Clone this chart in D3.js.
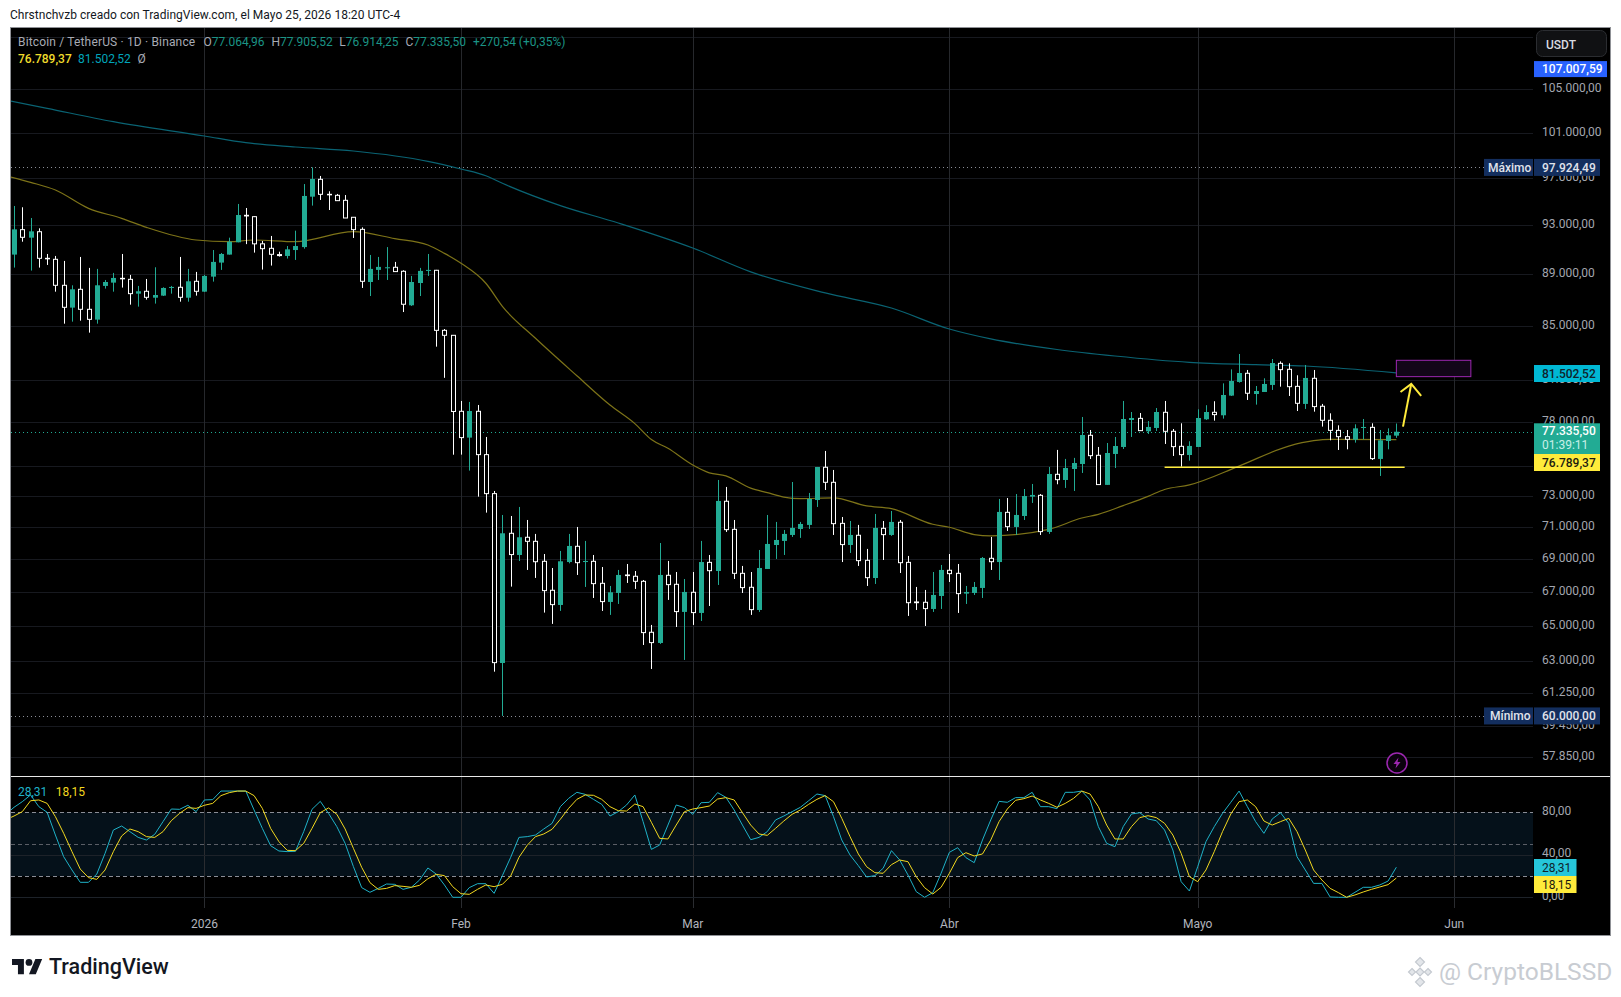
<!DOCTYPE html>
<html>
<head>
<meta charset="utf-8">
<script src="https://cdn.jsdelivr.net/npm/d3@7"></script>
<style>
  html, body { margin: 0; padding: 0; background: #fff; }
  svg { display: block; }
  text { font-family: Roboto, "Liberation Sans", sans-serif; }
</style>
</head>
<body>
<div id="chart-area"></div>
<script>
// candles, first one is 9 Dec 2025, last one is 25 May 2026
var opens = [
  90590,92630,91970,92460,90290,90210,88140,86400,87825,86270,85480,88090,
  88350,88690,88610,87485,87670,87170,87330,87960,87985,87170,88455,87640,
  88825,89945,90590,91590,93825,93710,91465,91100,90590,90480,90960,91200,
  95400,96890,95600,95515,95090,93660,92655,88400,89360,89545,89570,89250,
  86580,88320,89305,89330,84665,84290,78760,76930,78760,75770,73176,62905,
  70630,69275,70380,70125,68885,67125,66250,68840,69815,68840,68885,67545,
  66430,66965,68050,67970,67665,64655,64040,68030,67485,65840,67005,65780,
  68820,68290,72680,70880,68150,67305,65955,68415,69895,70150,70525,70905,
  71160,72760,74920,73920,71260,69895,70505,68945,67865,70945,70525,71330,
  68820,66430,66410,66015,66785,68335,68150,66925,66965,67265,69070,68840,
  71965,71030,71730,72980,73065,70715,74450,74074,74805,75140,77090,75725,
  73750,75815,76290,78150,78265,77365,77595,78690,77365,76335,75745,76290,
  78200,78690,78480,79870,80850,81480,79985,80130,80635,82206,81770,80535,
  79280,81115,79115,78130,77430,76995,76790,77620,77640,75480,76700,77064.96
]
var highs = [
  94610,94500,93600,92740,90640,90480,90080,88140,90400,89520,89440,88560,
  89120,90640,88960,88090,88640,89570,87985,88090,90400,89440,89200,88960,
  90960,90720,91970,94780,94440,93740,91700,92110,90825,91285,92545,96480,
  97924.49,97180,95860,95630,95540,93660,92820,90560,90400,91200,90000,89330,
  88880,89520,90640,89360,84765,84290,79490,79420,79205,76975,73350,71795,
  71730,72310,71475,70590,69335,68475,69525,70590,71030,70150,69275,68535,
  67385,68355,68720,68290,67745,65080,70020,68905,68230,67805,68230,70150,
  69275,74074,73615,71475,68600,68230,69585,71795,71350,70840,73940,71350,
  73220,74940,76020,74740,71665,71410,71160,69650,71860,71410,72050,71475,
  69215,67325,67145,68230,68660,69335,68720,67385,67625,69150,70400,72830,
  72890,73150,73480,73810,73150,74940,76090,75480,75550,78360,77456,76290,
  76560,76975,79490,78710,78640,78075,78990,79490,77525,77920,76680,78900,
  79190,79470,80750,81765,82895,81720,80560,81115,82525,82350,82206,81335,
  82085,81720,79280,78617,77780,77456,77850,78220,77920,77456,77570,77905.52
]
var lows = [
  89545,91640,89305,89545,89757,87640,85170,85325,85400,84490,85170,87880,
  87640,87960,86630,86475,87020,86710,87300,87485,86860,86860,87330,87615,
  88430,89360,90590,91590,91440,90750,89385,89705,90430,90270,90160,91070,
  94640,95120,94270,95035,93600,91945,87930,87300,88560,88560,89200,86060,
  86530,87300,88880,83440,81150,75765,75770,74695,72979,71945,62420,60000,
  67345,68905,68355,67870,65800,65140,65900,68760,68050,67325,66665,65900,
  65665,66310,67565,67205,63925,62570,63985,66550,64960,63075,65080,65310,
  66190,67445,70715,67805,66965,65665,65840,68415,69030,69275,70400,70340,
  70905,72310,73415,70525,68840,69400,68600,67385,67505,68965,70465,68170,
  65605,65955,65020,65840,66015,67625,65780,66310,66845,66665,68355,67745,
  70780,70525,71475,72570,70525,70590,73790,73550,73350,74540,75475,73750,
  73750,74870,76155,76975,77385,77180,77385,76495,75680,74960,75365,76290,
  78155,78105,78245,79845,80800,79560,79230,80130,80275,80510,79845,78780,
  78925,78735,77690,76745,76085,76130,76585,76815,75410,74340,76130,76914.25
]
var closes = [
  92655,92000,92490,90290,90270,88140,86425,87825,86270,85500,88140,88400,
  88720,88665,87485,87670,87200,87380,87930,88010,87200,88455,87670,88880,
  90000,90640,91640,93850,93770,91465,91070,90615,90510,91015,91285,95460,
  96920,95600,95570,95060,93600,92630,88455,89440,89600,89570,89225,86660,
  88400,89280,89360,84665,84290,78745,76930,78780,75770,73176,62925,70630,
  69300,70380,70125,68860,67105,66270,68885,69835,68800,68905,67525,66450,
  67005,68050,68010,67665,64635,64060,68050,67465,65860,67025,65800,68840,
  68310,72700,70860,68150,67285,65975,68475,69960,70210,70590,70970,71220,
  72830,74940,73920,71240,69920,70525,68925,67885,70970,70545,71350,68800,
  66385,66385,66035,66845,68355,68130,66925,67025,67325,69090,68860,71990,
  71050,71795,73020,73090,70735,74470,74095,74870,75205,77110,75700,73770,
  75880,76355,78220,78290,77410,77665,78710,77365,76312,75770,76360,78290,
  78710,78525,79915,80920,81500,80040,80200,80705,82230,81745,80510,79325,
  81140,79090,78130,77430,76995,76815,77570,77665,75500,76745,77090,77335.5
]

var maLongDays = [-24,-19,-11,0,5,11,18,27,31,34,36,43,50,59,66,75,83,90,95,103,110,119,127,133,144]
var maLongValues = [104000,103230,102005,100710,100110,99725,99370,98460,97785,97200,96545,94640,93180,91120,89200,87540,86370,84765,84020,83230,82745,82280,82110,82010,81502.52]
var maShortDays = [-24,-21,-18,-14,-10,-7,-1,3,6,11,18,23,27,29,31,34,36,40,45,49,52,54,56,59,61,63,66,68,70,72,76,80,83,88,90,93,95,102,106,108,111,114,116,119,125,131,134,136,144]
var maShortValues = [97200,96630,95970,94410,93570,92820,91780,91640,91780,91640,92460,91890,91370,90690,89890,88300,86500,84065,81300,79200,77900,76800,76200,75075,74550,74350,73540,73240,72950,72850,72900,72375,72200,71200,71010,70550,70465,70880,71600,71835,72400,73000,73450,73750,75000,76350,76720,76815,76789.37]

// stochastic RSI, first value is 8 Dec 2025
var stochK = [
  78,84.7,90,96.3,85.3,80,58.6,38.2,25.7,14.1,14.1,21.9,41.4,
  63.3,67.1,61.8,56.4,53.9,59.3,71.2,83.1,82.8,86.6,80.6,91.6,
  91.9,100,100,100,100,82.2,64.9,48.6,43.6,43,43.3,61.8,
  82.8,90.3,79,66.5,50.8,28.9,9.1,4.7,8.4,12.5,12.2,7.5,
  9.4,16.3,27.6,21.9,11.6,0,0,9.1,12.8,12.8,3.7,20.4,
  37.6,56.4,57.1,58.6,64.3,69.6,85.3,93.1,98.8,96.9,92.2,87.5,
  76.5,80.6,86.9,96.3,71.2,45.1,49.2,68,86.9,84.4,78.1,89,
  89.4,98.5,94.1,82.2,68,54.2,56.4,61.8,72.8,76.5,80.6,84.7,
  90.9,97.2,95.7,75.9,53.9,39.8,29.8,19.1,20.4,27.3,43.9,35.1,
  21,5.3,0,4.4,22.6,42.3,46.7,37.3,32.6,53.9,72.8,90.3,
  89.4,93.8,93.8,98.8,85.3,85.3,83.4,98.8,98.8,100,91.6,66.5,
  50.8,47.6,66.5,78.4,79.6,73.7,72.1,63.3,44.5,14.7,5.9,28.8,
  52.4,66.5,79,89.4,100,85.3,71.2,60.2,73.7,79.6,69.6,38.2,
  25.7,13.1,13.1,0.3,0,0,4.7,9.4,9.4,11.6,15.3,28.31
]
var stochD = [
  73,76.5,80.6,90.9,91.6,88.4,75.9,60.2,43,26.6,18.5,16.9,25.7,
  43,57.7,64.3,61.8,57.1,56.4,61.8,72.1,79,84.4,83.7,86.6,
  88.4,95.7,98.5,100,100,95.7,83.7,64.9,52.4,44.2,43.9,50.8,
  64.9,79.7,84.1,78.1,64.3,46.1,28.2,13.8,7.5,8.4,11,10.3,
  9.4,11.3,17.5,21.6,20.4,10,3.4,2.8,7.5,11.6,10,12.2,
  20,37.6,49,57.1,59.6,64,73.4,83.7,92.2,96.3,96,92.2,
  85.3,81.5,81.2,87.8,85.3,70.6,55.5,54.9,68,80.6,83.1,84.4,
  85.9,92.5,93.8,91.6,79.7,68,59.6,58.3,64.9,71.8,78.1,82.2,
  87.5,92.2,95.7,90,74.3,57.1,40.8,28.8,23.2,22.6,30.7,35.1,
  33.5,19.4,9.1,3.1,9.4,22.6,37.3,42,38.9,40.8,53.9,71.2,
  83.1,91.3,92.8,95.3,91.6,88.4,84.7,88.4,93.1,100,97.2,85.3,
  68,54.9,54.9,66.5,75,76.8,75,69.6,58.6,41.4,19.4,14.7,
  25.7,43,61.8,78.4,90,91.6,85.3,71.8,68,71.2,74.3,61.8,
  44.5,25.7,16.3,8.4,4.4,0,2.2,5,7.5,9.7,11.9,18.15
]

var gridTicks = [110000,105000,101000,97000,93000,89000,85000,81000,78000,75000,73000,71000,69000,67000,65000,63000,61250,59450,57850]
// 75.000 is fully behind the yellow tag in the original, so no label for it
var priceLabels = [105000,101000,97000,93000,89000,85000,81000,78000,73000,71000,69000,67000,65000,63000,61250,59450,57850]
var stochTicks = [80,40,0]
var monthDates = ["2026-01-01","2026-02-01","2026-03-01","2026-04-01","2026-05-01","2026-06-01"]
var monthLabels = ["2026","Feb","Mar","Abr","Mayo","Jun"]

var maxPrice = 97924.49
var minPrice = 60000
var lastPrice = 77335.5
var topLabelPrice = 107007.59
var levelPrice = 74915
var boxPrices = [82430, 81235]
var boxDays = [144, 153]

var TEAL = "#22ab94"
var YELLOW = "#ffeb3b"
var PURPLE = "#9c27b0"

var esLocale = d3.formatLocale({decimal: ",", thousands: ".", grouping: [3], currency: ["", ""]})
var fmt = esLocale.format(",.2f")

var jan1 = new Date(Date.UTC(2026, 0, 1))
function day(n) { return d3.utcDay.offset(jan1, n) }

var candles = opens.map(function(o, i) {
  return {date: day(i - 23), o: o, h: highs[i], l: lows[i], c: closes[i]}
})

var plotLeft = 11, plotRight = 1533, frameRight = 1610, paneSplit = 776, stochBottom = 908

var x = d3.scaleUtc()
  .domain([jan1, new Date(Date.UTC(2026, 5, 1))])
  .range([204.4, 1454.3])
var y = d3.scaleLog()
  .domain([105000, 63000])
  .range([89.3, 661.3])
var yStoch = d3.scaleLinear()
  .domain([0, 80])
  .range([897.3, 812.3])

var svg = d3.select("#chart-area")
  .append("svg")
  .attr("width", 1621)
  .attr("height", 997)

function label(parent, tx, ty, str, color, size, weight) {
  return parent.append("text")
    .attr("x", tx).attr("y", ty)
    .attr("dy", "0.35em")
    .attr("fill", color)
    .attr("font-size", size || 12)
    .attr("font-weight", weight || 400)
    .text(str)
}

// page text
label(svg, 10, 15, "Chrstnchvzb creado con TradingView.com, el Mayo 25, 2026 18:20 UTC-4", "#131722", 12)
  .style("letter-spacing", "0.03px")

// black chart frame
svg.append("rect")
  .attr("x", 10.5).attr("y", 27.5)
  .attr("width", frameRight - 10).attr("height", 908)
  .attr("fill", "#000").attr("stroke", "#8f9196")

var defs = svg.append("defs")
defs.append("clipPath").attr("id", "clip-main").append("rect")
  .attr("x", plotLeft).attr("y", 28).attr("width", plotRight - plotLeft).attr("height", paneSplit - 28)
defs.append("clipPath").attr("id", "clip-stoch").append("rect")
  .attr("x", plotLeft).attr("y", paneSplit + 1).attr("width", plotRight - plotLeft).attr("height", stochBottom - paneSplit - 1)

var mainPane = svg.append("g").attr("clip-path", "url(#clip-main)")
var stochPane = svg.append("g").attr("clip-path", "url(#clip-stoch)")

// stoch band sits under the grid
stochPane.append("rect")
  .attr("x", plotLeft).attr("width", plotRight - plotLeft)
  .attr("y", yStoch(80)).attr("height", yStoch(20) - yStoch(80))
  .attr("fill", "#05111a")

// grid
var monthValues = monthDates.map(function(s) { return new Date(s + "T00:00:00Z") })

mainPane.selectAll(".hgrid").data(gridTicks).enter().append("line")
  .attr("x1", plotLeft).attr("x2", plotRight)
  .attr("y1", function(d) { return Math.round(y(d)) + 0.5 })
  .attr("y2", function(d) { return Math.round(y(d)) + 0.5 })
  .attr("stroke", "#17191f")

mainPane.selectAll(".vgrid").data(monthValues).enter().append("line")
  .attr("x1", function(d) { return Math.round(x(d)) + 0.5 })
  .attr("x2", function(d) { return Math.round(x(d)) + 0.5 })
  .attr("y1", 28).attr("y2", paneSplit)
  .attr("stroke", "#26282c")

stochPane.selectAll(".vgrid").data(monthValues).enter().append("line")
  .attr("x1", function(d) { return Math.round(x(d)) + 0.5 })
  .attr("x2", function(d) { return Math.round(x(d)) + 0.5 })
  .attr("y1", paneSplit).attr("y2", stochBottom)
  .attr("stroke", "#2a2c30")

// max / min / last price dotted lines
var dotted = [
  {v: maxPrice, color: "#8a8d96"},
  {v: minPrice, color: "#8a8d96"},
  {v: lastPrice, color: TEAL}
]
mainPane.selectAll(".dotted").data(dotted).enter().append("line")
  .attr("x1", plotLeft).attr("x2", plotRight)
  .attr("y1", function(d) { return Math.round(y(d.v)) + 0.5 })
  .attr("y2", function(d) { return Math.round(y(d.v)) + 0.5 })
  .attr("stroke", function(d) { return d.color })
  .attr("stroke-dasharray", "1 3")

// moving averages
function maLine(days, values) {
  return d3.line()
    .x(function(d) { return x(day(d)) })
    .y(function(d, i) { return y(values[i]) })
    .curve(d3.curveMonotoneX)(days)
}
mainPane.append("path")
  .attr("d", maLine(maLongDays, maLongValues))
  .attr("fill", "none").attr("stroke", "#0a6373").attr("stroke-width", 1.2)
mainPane.append("path")
  .attr("d", maLine(maShortDays, maShortValues))
  .attr("fill", "none").attr("stroke", "#7d7318").attr("stroke-width", 1.2)

// candles
var cx = function(d) { return Math.round(x(d.date)) + 0.5 }

mainPane.selectAll(".wick").data(candles).enter().append("line")
  .attr("x1", cx).attr("x2", cx)
  .attr("y1", function(d) { return y(d.h) })
  .attr("y2", function(d) { return y(d.l) })
  .attr("stroke", function(d) { return d.c >= d.o ? TEAL : "#fff" })
  .attr("stroke-width", 1)

mainPane.selectAll(".body-up").data(candles.filter(function(d) { return d.c >= d.o })).enter().append("rect")
  .attr("x", function(d) { return cx(d) - 2.5 })
  .attr("width", 5)
  .attr("y", function(d) { return y(d.c) })
  .attr("height", function(d) { return Math.max(1, y(d.o) - y(d.c)) })
  .attr("fill", TEAL)

mainPane.selectAll(".body-down").data(candles.filter(function(d) { return d.c < d.o })).enter().append("rect")
  .attr("x", function(d) { return cx(d) - 2 })
  .attr("width", 4)
  .attr("y", function(d) { return y(d.o) })
  .attr("height", function(d) { return Math.max(0.5, y(d.c) - y(d.o)) })
  .attr("fill", "#000")
  .attr("stroke", "#fff")
  .attr("stroke-width", 1)

// drawings: target box, level line, arrow
mainPane.append("rect")
  .attr("x", x(day(boxDays[0]))).attr("width", x(day(boxDays[1])) - x(day(boxDays[0])))
  .attr("y", y(boxPrices[0])).attr("height", y(boxPrices[1]) - y(boxPrices[0]))
  .attr("fill", "#120618").attr("stroke", PURPLE).attr("stroke-width", 1)

mainPane.append("line")
  .attr("x1", x(day(116))).attr("x2", x(day(145)))
  .attr("y1", y(levelPrice)).attr("y2", y(levelPrice))
  .attr("stroke", YELLOW).attr("stroke-width", 1.5)

var arrowDays = [144.8, 145.8, 144.5, 145.8, 147]
var arrowPrices = [77690, 80705, 80130, 80705, 79845]
function arrowX(d) { return x(new Date(+jan1 + d * 864e5)) }
mainPane.append("path")
  .attr("d", "M" + arrowX(arrowDays[0]) + "," + y(arrowPrices[0]) + "L" + arrowX(arrowDays[1]) + "," + y(arrowPrices[1]))
  .attr("fill", "none").attr("stroke", YELLOW).attr("stroke-width", 2)
mainPane.append("path")
  .attr("d", "M" + arrowX(arrowDays[2]) + "," + y(arrowPrices[2]) + "L" + arrowX(arrowDays[3]) + "," + y(arrowPrices[3]) + "L" + arrowX(arrowDays[4]) + "," + y(arrowPrices[4]))
  .attr("fill", "none").attr("stroke", YELLOW).attr("stroke-width", 2)

// lightning marker
var bolt = mainPane.append("g").attr("transform", "translate(1397,763)")
bolt.append("circle").attr("r", 10).attr("fill", "#0a020d").attr("stroke", PURPLE).attr("stroke-width", 1.5)
bolt.append("path").attr("d", "M1.5,-5.5L-3.5,1H-0.5L-1.5,5.5L3.5,-1H0.5Z").attr("fill", PURPLE)

// stoch levels
stochPane.selectAll(".slevel").data([40, 0]).enter().append("line")
  .attr("x1", plotLeft).attr("x2", plotRight)
  .attr("y1", function(d) { return d == 40 ? 855.5 : Math.round(yStoch(d)) + 0.5 })
  .attr("y2", function(d) { return d == 40 ? 855.5 : Math.round(yStoch(d)) + 0.5 })
  .attr("stroke", "#1d2229")
stochPane.selectAll(".sband").data([80, 50, 20]).enter().append("line")
  .attr("x1", plotLeft).attr("x2", plotRight)
  .attr("y1", function(d) { return Math.round(yStoch(d)) + 0.5 })
  .attr("y2", function(d) { return Math.round(yStoch(d)) + 0.5 })
  .attr("stroke", function(d) { return d == 50 ? "#5b5e66" : "#8a8d96" })
  .attr("stroke-dasharray", "4 3")

var stochLine = d3.line()
  .x(function(d, i) { return x(day(i - 24)) })
  .y(function(d) { return yStoch(d) })
stochPane.append("path").attr("d", stochLine(stochK))
  .attr("fill", "none").attr("stroke", "#1fb2c8").attr("stroke-width", 1)
stochPane.append("path").attr("d", stochLine(stochD))
  .attr("fill", "none").attr("stroke", "#f2d81f").attr("stroke-width", 1)

// pane separator
svg.append("line")
  .attr("x1", 11).attr("x2", frameRight)
  .attr("y1", paneSplit + 0.5).attr("y2", paneSplit + 0.5)
  .attr("stroke", "#e8e8e8")

// axes
var priceAxis = d3.axisRight(y)
  .tickValues(priceLabels)
  .tickFormat(fmt)
  .tickSize(0)
  .tickPadding(8)
var gPrice = svg.append("g")
  .attr("transform", "translate(1534,-1.5)")
  .call(priceAxis)
gPrice.select(".domain").remove()
gPrice.selectAll("text").attr("fill", "#a3a6af").attr("font-size", 12).style("font-family", "Roboto")

var stochAxis = d3.axisRight(yStoch)
  .tickValues(stochTicks)
  .tickFormat(esLocale.format(".2f"))
  .tickSize(0)
  .tickPadding(8)
var gStoch = svg.append("g")
  .attr("transform", "translate(1534,-2)")
  .call(stochAxis)
gStoch.select(".domain").remove()
gStoch.selectAll("text").attr("fill", "#a3a6af").attr("font-size", 12).style("font-family", "Roboto")

var timeAxis = d3.axisBottom(x)
  .tickValues(monthValues)
  .tickFormat(function(d, i) { return monthLabels[i] })
  .tickSize(0)
  .tickPadding(0)
var gTime = svg.append("g")
  .attr("transform", "translate(-0.5,919)")
  .call(timeAxis)
gTime.select(".domain").remove()
gTime.selectAll("text").attr("fill", "#b2b5be").attr("font-size", 12).style("font-family", "Roboto")

// legend
var legendGrey = "#a8abb4", legendTeal = "#1b9485"
label(svg, 18, 41.7, "Bitcoin / TetherUS · 1D · Binance", legendGrey)
  .style("letter-spacing", "0.16px")
var ohlc = [["O", opens], ["H", highs], ["L", lows], ["C", closes]]
var ohlcX = [203.6, 271.4, 339.3, 405.4]
ohlc.forEach(function(p, i) {
  var t = label(svg, ohlcX[i], 41.7, p[0], legendGrey)
  t.append("tspan").attr("fill", legendTeal).text(fmt(p[1][p[1].length - 1]))
})
label(svg, 473, 41.7, "+270,54 (+0,35%)", legendTeal)
label(svg, 18, 59, fmt(maShortValues[maShortValues.length - 1]), "#f0dc2c", 12, 500)
label(svg, 78, 59, fmt(maLongValues[maLongValues.length - 1]), "#00a5bb")
label(svg, 137.5, 59, "Ø", legendGrey)

label(svg, 18, 792, "28,31", "#1fb2c8")
label(svg, 55.7, 792, "18,15", "#f2d81f")

// USDT button
svg.append("rect")
  .attr("x", 1536.5).attr("y", 30.5).attr("width", 70).attr("height", 26).attr("rx", 6)
  .attr("fill", "#101113").attr("stroke", "#2b2d31")
label(svg, 1546, 44.5, "USDT", "#d8dae0", 12, 500)

// price tags on the axis
function tag(cy, h, x0, x1, bg) {
  svg.append("rect").attr("x", x0).attr("y", cy - h / 2).attr("width", x1 - x0).attr("height", h).attr("fill", bg)
}
var NAVY = "#132e5e"

tag(y(topLabelPrice) + 1, 16, 1534, 1607, "#2962ff")
label(svg, 1542, y(topLabelPrice) + 1, fmt(topLabelPrice), "#fff", 12, 500)

tag(y(maxPrice), 17, 1484, 1533, NAVY)
tag(y(maxPrice), 17, 1534, 1600, NAVY)
label(svg, 1488, y(maxPrice), "Máximo", "#e0e3eb", 12, 500)
label(svg, 1542, y(maxPrice), fmt(maxPrice), "#e0e3eb", 12, 500)

tag(y(minPrice), 17, 1484, 1533, NAVY)
tag(y(minPrice), 17, 1534, 1600, NAVY)
label(svg, 1490, y(minPrice), "Mínimo", "#e0e3eb", 12, 500)
label(svg, 1542, y(minPrice), fmt(minPrice), "#e0e3eb", 12, 500)

tag(373.5, 17, 1534, 1600, "#00b8d4")
label(svg, 1542, 373.5, fmt(maLongValues[maLongValues.length - 1]), "#10222a", 12, 500)

svg.append("rect").attr("x", 1534).attr("y", 423.3).attr("width", 66).attr("height", 31).attr("fill", TEAL)
label(svg, 1542, 431, fmt(lastPrice), "#fff", 12, 500)
label(svg, 1542, 445, "01:39:11", "#c9efe8", 12)
tag(462.5, 17, 1534, 1600, YELLOW)
label(svg, 1542, 462.5, fmt(maShortValues[maShortValues.length - 1]), "#1a1a10", 12, 500)

tag(867.5, 17, 1534, 1576.5, "#26c6da")
label(svg, 1542, 867.5, "28,31", "#10222a", 12)
tag(884.5, 17, 1534, 1576.5, YELLOW)
label(svg, 1542, 884.5, "18,15", "#1a1a10", 12)

// TradingView mark
var logo = svg.append("g").attr("transform", "translate(12,955.6) scale(0.85)")
logo.append("path").attr("d", "M14 22H7V11H0V4h14v18zM28 22h-8l7.5-18h8L28 22z").attr("fill", "#131722")
logo.append("circle").attr("cx", 20).attr("cy", 8).attr("r", 4).attr("fill", "#131722")
label(svg, 49, 966.5, "TradingView", "#131722", 21.5, 500)

// watermark, small diamonds like the exchange logo
var wmParts = [[0, -10, 4.5], [-8, 0, 3.5], [8, 0, 3.5], [0, 0, 4], [0, 10, 4.5]]
var wm = svg.append("g").attr("transform", "translate(1420,972)")
wm.selectAll("path").data(wmParts).enter().append("path")
  .attr("d", function(d) { return "M" + d[0] + "," + (d[1] - d[2]) + "L" + (d[0] + d[2]) + "," + d[1] + "L" + d[0] + "," + (d[1] + d[2]) + "L" + (d[0] - d[2]) + "," + d[1] + "Z" })
  .attr("fill", "#e3e6ea").attr("stroke", "#c4c9d0").attr("stroke-width", 1.2)
label(svg, 1439, 971, "@ CryptoBLSSD", "#c8ccd2", 24.5)
</script>
</body>
</html>
